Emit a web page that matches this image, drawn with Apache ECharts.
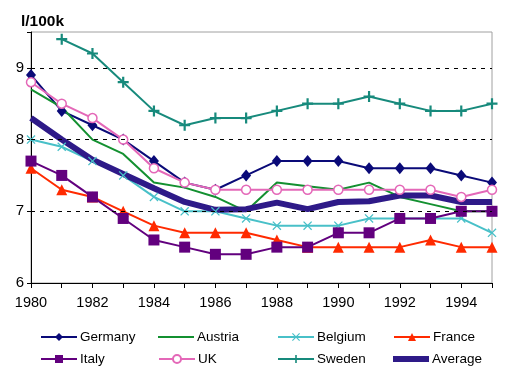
<!DOCTYPE html>
<html><head><meta charset="utf-8">
<script src="https://cdn.jsdelivr.net/npm/echarts@6/dist/echarts.min.js"></script>
<style>html,body{margin:0;padding:0;background:#fff}#c{width:513px;height:380px}</style>
</head><body><div id="c"></div>
<script>
const years = ['1980','1981','1982','1983','1984','1985','1986','1987','1988','1989','1990','1991','1992','1993','1994','1995'];
const germany = [8.9,8.4,8.2,8.0,7.7,7.4,7.3,7.5,7.7,7.7,7.7,7.6,7.6,7.6,7.5,7.4];
const austria = [8.7,8.45,8.0,7.8,7.4,7.33,7.2,7.0,7.4,7.35,7.3,7.4,7.2,7.1,7.0,7.0];
const belgium = [8.0,7.9,7.7,7.5,7.2,7.0,7.0,6.9,6.8,6.8,6.8,6.9,6.9,6.9,6.9,6.7];
const france  = [7.6,7.3,7.2,7.0,6.8,6.7,6.7,6.7,6.6,6.5,6.5,6.5,6.5,6.6,6.5,6.5];
const italy   = [7.7,7.5,7.2,6.9,6.6,6.5,6.4,6.4,6.5,6.5,6.7,6.7,6.9,6.9,7.0,7.0];
const uk      = [8.8,8.5,8.3,8.0,7.6,7.4,7.3,7.3,7.3,7.3,7.3,7.3,7.3,7.3,7.2,7.3];
const sweden  = [null,9.4,9.2,8.8,8.4,8.2,8.3,8.3,8.4,8.5,8.5,8.6,8.5,8.4,8.4,8.5];
const average = [8.3,8.0,7.72,7.52,7.32,7.13,7.02,7.03,7.12,7.03,7.13,7.14,7.22,7.22,7.13,7.13];
const gridValues = [7,8,9];
const yTicks = [6,7,8,9];

const FONT = '"Liberation Sans", Arial, sans-serif';
const plusPath = 'path://M4,0H6V4H10V6H6V10H4V6H0V4H4Z';
const xPath = 'path://M0,1L1,0L5,4L9,0L10,1L6,5L10,9L9,10L5,6L1,10L0,9L4,5Z';

function mk(name, data, color, symbol, size, extra) {
  return Object.assign({
    name, type: 'line', data, symbol, symbolSize: size, showSymbol: symbol !== 'none',
    connectNulls: false, animation: false,
    lineStyle: {color, width: 2},
    itemStyle: {color},
    z: 3
  }, extra || {});
}

const series = [
  {type: 'line', data: [], silent: true, animation: false, z: 1,
   markLine: {silent: true, symbol: ['none','none'], label: {show: false},
     lineStyle: {color: '#000', type: [4,5], width: 1},
     data: gridValues.map(v => ({yAxis: v}))}},
  mk('Germany', germany, '#0a0a78', 'diamond', [10,12]),
  mk('Austria', austria, '#139030', 'none', 0),
  mk('Belgium', belgium, '#48c0c8', xPath, 9),
  mk('France', france, '#ff2a00', 'triangle', 11),
  mk('Italy', italy, '#62007e', 'rect', 11),
  mk('UK', uk, '#e468b8', 'circle', 9, {itemStyle: {color: '#fff', borderColor: '#e468b8', borderWidth: 1.5}}),
  mk('Sweden', sweden, '#178a7c', plusPath, 11),
  mk('Average', average, '#2e1a88', 'none', 0, {lineStyle: {color: '#2e1a88', width: 6}})
];

const legendPos = [
  ['Germany', 40, 330], ['Austria', 158, 330], ['Belgium', 277, 330], ['France', 393, 330],
  ['Italy', 40, 352], ['UK', 158, 352], ['Sweden', 277, 352], ['Average', 393, 352]
];
const plainIcon = {Austria: [2, '#139030'], Average: [6, '#2e1a88']};

const option = {
  backgroundColor: '#fff',
  title: {text: 'l/100k', left: 16, top: 9,
    textStyle: {fontFamily: FONT, fontWeight: 'bold', fontSize: 15.5, color: '#000'}},
  grid: {left: 31, right: 21, top: 32, bottom: 97, show: true, borderColor: '#a0a0a0', borderWidth: 1},
  legend: legendPos.map(([n, l, t]) => {
    const p = plainIcon[n];
    return {
      data: [p ? {name: n, icon: 'rect', itemStyle: {color: p[1]}} : n],
      left: l, top: t, itemWidth: 36, itemHeight: p ? p[0] : 10, itemGap: 3, padding: 0,
      selectedMode: false,
      textStyle: {fontFamily: FONT, fontSize: 13.5, color: '#000', padding: [0,0,0,-2]}
    };
  }),
  xAxis: {
    type: 'category', data: years, boundaryGap: false,
    axisLine: {lineStyle: {color: '#000', width: 1}},
    axisTick: {show: true, interval: 0, length: 5, lineStyle: {color: '#000'}},
    axisLabel: {interval: 1, color: '#000', fontFamily: FONT, fontSize: 14.5, margin: 12},
    splitLine: {show: false}
  },
  yAxis: {
    type: 'value', min: 6, max: 9.5, interval: 1,
    axisLine: {show: true, lineStyle: {color: '#000', width: 1}},
    axisTick: {show: true, length: 4, lineStyle: {color: '#000'}},
    axisLabel: {color: '#000', fontFamily: FONT, fontSize: 15, margin: 7,
      formatter: v => (yTicks.indexOf(v) >= 0 ? String(v) : '')},
    splitLine: {show: false}
  },
  series
};
echarts.init(document.getElementById('c')).setOption(option);
</script></body></html>
